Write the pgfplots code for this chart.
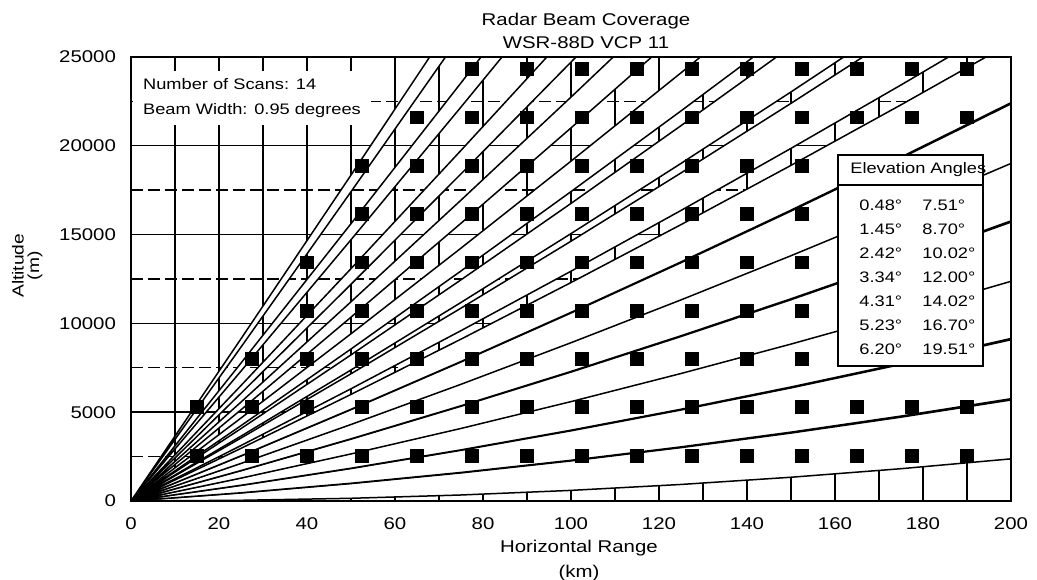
\documentclass[border=0pt]{standalone}
\usepackage{fontspec}
\setmainfont{Liberation Sans}[FakeStretch=1.2]
\usepackage{pgfplots}
\pgfplotsset{compat=1.18}
\begin{document}
\begin{tikzpicture}
\begin{axis}[
  scale only axis, width=440pt, height=222pt,
  xmin=0, xmax=200, ymin=0, ymax=25000,
  xtick={0,20,...,200}, ytick={0,5000,...,25000},
  extra x ticks={10,30,...,190}, extra x tick labels={},
  extra y ticks={2500,7500,...,22500}, extra y tick labels={},
  grid=major, major grid style={black, line width=0.7pt},
  extra x tick style={grid=major, major grid style={black, line width=0.7pt}},
  extra y tick style={grid=major, major grid style={black, line width=0.7pt, dash pattern=on 6pt off 2.5pt}},
  axis line style={line width=1.2pt},
  tick style={black, line width=0.7pt}, major tick length=3pt,
  scaled ticks=false,
  /pgf/number format/1000 sep={},
  /pgf/number format/assume math mode=true,
  tick label style={font=\fontsize{8.5}{10}\selectfont},
  xticklabel style={yshift=-5pt},
  yticklabel style={xshift=-4pt},
  xlabel={Horizontal Range\\(km)},
  xlabel style={align=center, font=\fontsize{8.5}{12.5}\selectfont, at={(axis description cs:0.509,-0.134)}, anchor=center},
  ylabel={Altitude\\(m)},
  ylabel style={align=center, font=\fontsize{8}{7.8}\selectfont, at={(axis description cs:-0.118,0.53)}, anchor=center},
]
% beams: lower edge outward, upper edge back
\addplot[fill=white, draw=black, line width=0.75pt] coordinates {(0,0)(25,39)(50,152)(75,338)(100,597)(125,931)(150,1337)(175,1818)(200,2372)(200,5688)(175,4720)(150,3824)(125,3004)(100,2256)(75,1581)(50,980)(25,454)(0,0)} --cycle;
\addplot[fill=white, draw=black, line width=0.75pt] coordinates {(0,0)(25,462)(50,998)(75,1607)(100,2291)(125,3047)(150,3877)(175,4781)(200,5758)(200,9080)(175,7687)(150,6367)(125,5122)(100,3951)(75,2853)(50,1827)(25,877)(0,0)} --cycle;
\addplot[fill=white, draw=black, line width=0.75pt] coordinates {(0,0)(25,886)(50,1845)(75,2879)(100,3986)(125,5166)(150,6420)(175,7748)(200,9150)(200,12475)(175,10657)(150,8914)(125,7243)(100,5647)(75,4125)(50,2677)(25,1301)(0,0)} --cycle;
\addplot[fill=white, draw=black, line width=0.75pt] coordinates {(0,0)(25,1288)(50,2650)(75,4085)(100,5595)(125,7178)(150,8835)(175,10565)(200,12370)(200,15702)(175,13481)(150,11333)(125,9260)(100,7259)(75,5334)(50,3482)(25,1704)(0,0)} --cycle;
\addplot[fill=white, draw=black, line width=0.75pt] coordinates {(0,0)(25,1713)(50,3500)(75,5361)(100,7295)(125,9303)(150,11385)(175,13542)(200,15772)(200,19112)(175,16464)(150,13890)(125,11389)(100,8964)(75,6611)(50,4333)(25,2130)(0,0)} --cycle;
\addplot[fill=white, draw=black, line width=0.75pt] coordinates {(0,0)(25,2116)(50,4307)(75,6571)(100,8911)(125,11323)(150,13811)(175,16371)(200,19007)(200,22358)(175,19304)(150,16323)(125,13417)(100,10584)(75,7827)(50,5144)(25,2535)(0,0)} --cycle;
\addplot[fill=white, draw=black, line width=0.75pt] coordinates {(0,0)(25,2543)(50,5162)(75,7853)(100,10619)(125,13461)(150,16376)(175,19365)(200,22429)(200,25793)(175,22307)(150,18898)(125,15561)(100,12300)(75,9113)(50,6001)(25,2963)(0,0)} --cycle;
\addplot[fill=white, draw=black, line width=0.75pt] coordinates {(0,0)(25,3122)(50,6319)(75,9591)(100,12938)(125,16359)(150,19855)(175,23425)(200,27070)(175,26385)(150,22390)(125,18471)(100,14627)(75,10858)(50,7163)(25,3545)(0,0)} --cycle;
\addplot[fill=white, draw=black, line width=0.75pt] coordinates {(0,0)(25,3652)(50,7377)(75,11179)(100,15055)(125,19007)(150,23033)(175,27135)(150,25586)(125,21133)(100,16755)(75,12453)(50,8227)(25,4076)(0,0)} --cycle;
\addplot[fill=white, draw=black, line width=0.75pt] coordinates {(0,0)(25,4242)(50,8558)(75,12951)(100,17420)(125,21963)(150,26583)(150,29159)(125,24109)(100,19135)(75,14237)(50,9415)(25,4670)(0,0)} --cycle;
\addplot[fill=white, draw=black, line width=0.75pt] coordinates {(0,0)(25,5136)(50,10349)(75,15639)(100,21006)(125,26449)(125,28620)(100,22741)(75,16940)(50,11216)(25,5570)(0,0)} --cycle;
\addplot[fill=white, draw=black, line width=0.75pt] coordinates {(0,0)(25,6062)(50,12201)(75,18418)(100,24713)(125,31086)(100,26478)(75,19741)(50,13082)(25,6502)(0,0)} --cycle;
\addplot[fill=white, draw=black, line width=0.75pt] coordinates {(0,0)(25,7315)(50,14709)(75,22183)(100,29738)(100,31551)(75,23543)(50,15614)(25,7767)(0,0)} --cycle;
\addplot[fill=white, draw=black, line width=0.75pt] coordinates {(0,0)(25,8666)(50,17414)(75,26244)(100,35157)(75,27650)(50,18351)(25,9134)(0,0)} --cycle;
% squares
\addplot[only marks, mark=square*, mark size=3.2pt, mark options={fill=black, draw=black, line width=0pt}] coordinates {
(15,2550)(27.5,2550)(40,2550)(52.5,2550)(65,2550)(77.5,2550)(90,2550)(102.5,2550)(115,2550)(127.5,2550)(140,2550)(152.5,2550)(165,2550)(177.5,2550)(190,2550)
(15,5270)(27.5,5270)(40,5270)(52.5,5270)(65,5270)(77.5,5270)(90,5270)(102.5,5270)(115,5270)(127.5,5270)(140,5270)(152.5,5270)(165,5270)(177.5,5270)(190,5270)
(27.5,7990)(40,7990)(52.5,7990)(65,7990)(77.5,7990)(90,7990)(102.5,7990)(115,7990)(127.5,7990)(140,7990)(152.5,7990)(165,7990)(177.5,7990)(190,7990)
(40,10710)(52.5,10710)(65,10710)(77.5,10710)(90,10710)(102.5,10710)(115,10710)(127.5,10710)(140,10710)(152.5,10710)(165,10710)(177.5,10710)(190,10710)
(40,13430)(52.5,13430)(65,13430)(77.5,13430)(90,13430)(102.5,13430)(115,13430)(127.5,13430)(140,13430)(152.5,13430)(165,13430)(177.5,13430)(190,13430)
(52.5,16150)(65,16150)(77.5,16150)(90,16150)(102.5,16150)(115,16150)(127.5,16150)(140,16150)(152.5,16150)(165,16150)(177.5,16150)(190,16150)
(52.5,18870)(65,18870)(77.5,18870)(90,18870)(102.5,18870)(115,18870)(127.5,18870)(140,18870)(152.5,18870)(165,18870)(177.5,18870)(190,18870)
(65,21590)(77.5,21590)(90,21590)(102.5,21590)(115,21590)(127.5,21590)(140,21590)(152.5,21590)(165,21590)(177.5,21590)(190,21590)
(77.5,24310)(90,24310)(102.5,24310)(115,24310)(127.5,24310)(140,24310)(152.5,24310)(165,24310)(177.5,24310)(190,24310)
};
% anchor points for the overlays, drawn after the axis
\coordinate (ann) at (rel axis cs:0.002,0.97);
\coordinate (lgA) at (rel axis cs:0.8034,0.3041);
\coordinate (lgB) at (rel axis cs:0.9682,0.7793);
\coordinate (lgC) at (rel axis cs:0.8034,0.7117);
\coordinate (lgD) at (rel axis cs:0.9682,0.7117);
\coordinate (lgH) at (rel axis cs:0.817,0.7455);
\coordinate (r1) at (rel axis cs:0.8273,0.665);
\coordinate (r2) at (rel axis cs:0.8273,0.611);
\coordinate (r3) at (rel axis cs:0.8273,0.557);
\coordinate (r4) at (rel axis cs:0.8273,0.503);
\coordinate (r5) at (rel axis cs:0.8273,0.449);
\coordinate (r6) at (rel axis cs:0.8273,0.395);
\coordinate (r7) at (rel axis cs:0.8273,0.341);
\coordinate (f1) at (rel axis cs:0,0);
\coordinate (f2) at (rel axis cs:1,1);
\end{axis}
\node[anchor=north west, fill=white, inner xsep=5pt, inner ysep=3.8pt, align=left, font=\fontsize{7.6}{12.5}\selectfont] at (ann) {Number of Scans: 14\\Beam Width: 0.95 degrees};
\draw[fill=white, line width=0.75pt] (lgA) rectangle (lgB);
\draw[line width=0.75pt] (lgC) -- (lgD);
\node[anchor=west, inner sep=0pt, font=\fontsize{7.6}{9}\selectfont] at (lgH) {Elevation Angles};
\begin{scope}[every node/.style={anchor=west, inner sep=0pt, font=\fontsize{7.6}{9}\selectfont}]
\node at (r1) {\makebox[31.5pt][l]{0.48°}7.51°};
\node at (r2) {\makebox[31.5pt][l]{1.45°}8.70°};
\node at (r3) {\makebox[31.5pt][l]{2.42°}10.02°};
\node at (r4) {\makebox[31.5pt][l]{3.34°}12.00°};
\node at (r5) {\makebox[31.5pt][l]{4.31°}14.02°};
\node at (r6) {\makebox[31.5pt][l]{5.23°}16.70°};
\node at (r7) {\makebox[31.5pt][l]{6.20°}19.51°};
\end{scope}
\draw[line width=1.2pt] (f1) rectangle (f2);
\node[font=\fontsize{8.5}{10}\selectfont] at ([xshift=7.5pt, yshift=18pt]current axis.north) {Radar Beam Coverage};
\node[font=\fontsize{8.5}{10}\selectfont] at ([xshift=7.5pt, yshift=7pt]current axis.north) {WSR-88D VCP 11};
\pgfresetboundingbox
\path[use as bounding box] ([shift={(-65.5pt,-39.5pt)}]current axis.south west) rectangle ([shift={(13pt,28.5pt)}]current axis.north east);
\end{tikzpicture}
\end{document}
